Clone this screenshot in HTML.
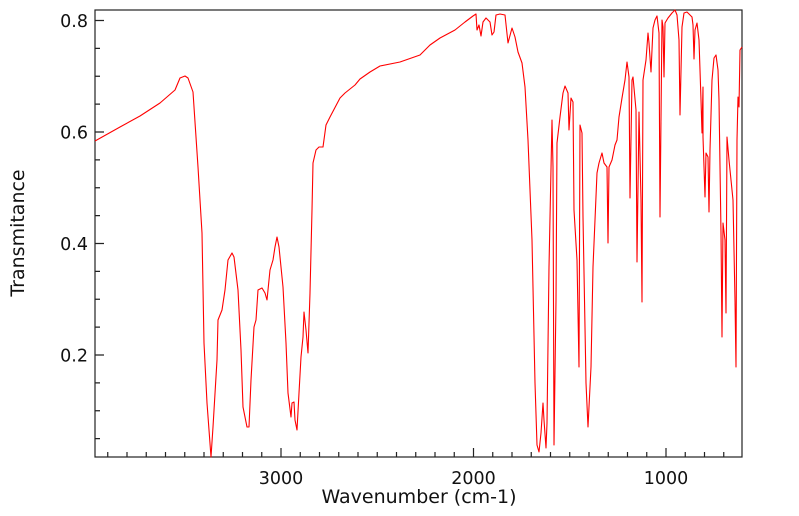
<!DOCTYPE html>
<html><head><style>body{margin:0;background:#fff}svg{display:block}text{font-family:"DejaVu Sans","Liberation Sans",sans-serif;fill:#111}</style></head>
<body>
<svg width="799" height="516" viewBox="0 0 799 516">
<rect x="95" y="10" width="647" height="447" fill="none" stroke="#222" stroke-width="1.2"/>
<path stroke="#222" stroke-width="1.2" fill="none" d="
M107.75 457v-5M127 457v-5M146.25 457v-5M165.5 457v-5M184.75 457v-5M204 457v-5M223.25 457v-5M242.5 457v-5M261.75 457v-5M281 457v-9
M300.25 457v-5M319.5 457v-5M338.75 457v-5M358 457v-5M377.25 457v-5M396.5 457v-5M415.75 457v-5M435 457v-5M454.25 457v-5M473.5 457v-9
M492.75 457v-5M512 457v-5M531.25 457v-5M550.5 457v-5M569.75 457v-5M589 457v-5M608.25 457v-5M627.5 457v-5M646.75 457v-5M666 457v-9
M685.25 457v-5M704.5 457v-5M723.75 457v-5
M95 438.6h5M95 410.75h5M95 382.9h5M95 355h9M95 327.1h5M95 299.25h5M95 271.4h5M95 243.5h9M95 215.6h5M95 187.75h5M95 159.9h5M95 132h9M95 104.1h5M95 76.25h5M95 48.4h5M95 20.5h9"/>
<g font-size="17.5">
<text x="281" y="484" text-anchor="middle">3000</text>
<text x="473.5" y="484" text-anchor="middle">2000</text>
<text x="666" y="484" text-anchor="middle">1000</text>
<text x="88" y="27" text-anchor="end">0.8</text>
<text x="88" y="138.5" text-anchor="end">0.6</text>
<text x="88" y="250" text-anchor="end">0.4</text>
<text x="88" y="361.5" text-anchor="end">0.2</text>
<text x="419" y="503" text-anchor="middle" font-size="19">Wavenumber (cm-1)</text>
<text transform="translate(24,233) rotate(-90)" text-anchor="middle" font-size="19">Transmitance</text>
</g>
<polyline fill="none" stroke="#f00" stroke-width="1.1" stroke-linejoin="round" points="
95,141 120,127 140,116 160,103 175,90 180,78 185,76 188,78 193,92 198,167 202,233 204,343 207,403 211,457 213,427 217,360 218,320 222,310 225,290 228,260 232,253 234,257 238,290 241,350 243,407 247,427 249,427 251,380 254,327 256,320 258,290 262,288 265,293 267,300 270,270 273,260 275,247 277,237 279,247 283,287 286,343 288,393 291,417 292,403 294,402 295,420 297,430 299,393 301,357 303,337 304,312 306,330 308,353 310,293 312,210 313,163 316,150 319,147 323,147 326,125 330,117 340,98 345,93 355,85 360,79 370,72 380,66 400,62 420,55 430,45 440,38 455,30 465,22 473,16 476,14 477,30 479,25 481,36 483,22 486,18 490,22 492,35 494,32 496,15 500,14 505,15 508,43 512,28 515,37 518,52 522,63 525,87 528,140 532,240 535,383 537,445 539,452 541,433 543,403 544,420 546,448 547,423 549,267 552,120 553,167 554,445 556,300 557,143 560,117 563,93 565,86 568,93 569,130 571,98 573,102 574,210 577,260 579,367 580,125 582,133 583,217 586,383 588,427 591,367 593,267 597,173 599,163 602,153 604,163 607,167 608,243 609,167 612,160 615,145 617,140 619,117 622,98 625,80 627,62 629,77 630,198 632,80 633,77 636,110 637,262 639,112 641,200 642,302 643,80 646,60 648,33 649,43 651,72 653,28 655,20 657,16 659,33 660,217 662,20 663,27 664,77 665,23 668,18 672,13 675,10 677,15 679,40 680,115 682,27 684,13 687,12 692,17 693,25 694,59 695,30 697,23 699,40 701,100 702,133 703,87 703,137 705,197 706,153 708,157 709,212 710,150 712,80 714,58 716,55 718,70 719,100 721,233 722,337 723,223 725,240 726,313 727,137 729,160 732,190 733,200 735,300 736,367 737,140 738,97 739,107 740,50 742,47"/>
</svg>
</body></html>
